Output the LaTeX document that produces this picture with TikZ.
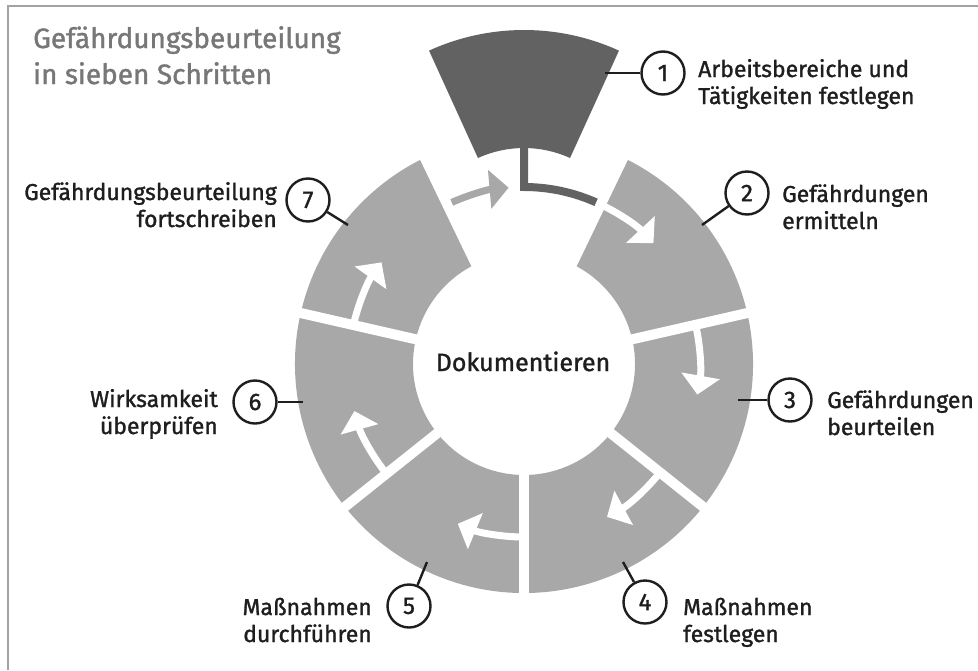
\documentclass[tikz,border=0pt]{standalone}
\usepackage{fontspec}
\setmainfont{Fira Sans}[FakeBold=1.3]
\usetikzlibrary{arrows.meta}
\definecolor{seg}{HTML}{A8A8A8}
\definecolor{segdark}{HTML}{626262}
\definecolor{ttl}{HTML}{777777}
\definecolor{frm}{HTML}{A3A3A3}
\definecolor{ink}{HTML}{1E1E1E}
\tikzset{
  lbl/.style={font=\fontsize{23}{27}\selectfont, text=ink, inner sep=0pt},
  numc/.style={circle, draw=ink, line width=2.4pt, minimum size=43pt, inner sep=0pt, text=ink, font=\fontsize{24}{24}\selectfont},
  conn/.style={draw=ink, line width=2.4pt},
  gapline/.style={white, line width=10pt},
  headtip/.style={-{Triangle[length=19pt,width=38pt]}},
  warrow/.style={draw=white, line width=7pt, headtip},
  garrow/.style={draw=seg, line width=7pt, headtip},
}
\begin{document}
\begin{tikzpicture}[x=1pt,y=1pt]
\useasboundingbox (0,0) rectangle (978,-670);
\fill[white] (0,0) rectangle (978,-670);
% frame
\draw[frm, line width=2pt] (8,-670) -- (8,-6) -- (978,-6);
\coordinate (C) at (524,-364);
\coordinate (C1) at (524,-259);
% title
\node[font=\fontsize{28}{36}\selectfont, text=ttl, inner sep=0pt, anchor=base west] (title) at (33,-48)
  {\begin{tabular}[t]{@{}l@{}}Gefährdungsbeurteilung\\in sieben Schritten\end{tabular}};
% ring (segments 2-7)
\fill[seg] ([shift={(64.29:229)}]C) arc[start angle=64.29, end angle=-244.29, radius=229]
  -- ([shift={(-244.29:111)}]C) arc[start angle=-244.29, end angle=64.29, radius=111] -- cycle;
\foreach \a in {115.71,64.29,12.86,-38.57,-90,-141.43,167.14}
  \draw[gapline] ([shift={(\a:100)}]C) -- ([shift={(\a:240)}]C);
% segment 1 (pulled out)
\fill[segdark] ([shift={(65.5:229)}]C1) arc[start angle=65.5, end angle=114.5, radius=229]
  -- ([shift={(114.5:111)}]C1) arc[start angle=114.5, end angle=65.5, radius=111] -- cycle;
% arrows
\coordinate (s1) at (524,-148);
\draw[segdark, line width=8pt, line join=miter] (s1) -- ([shift={(90:177)}]C) arc[start angle=90, end angle=65.9, radius=177];
\draw[warrow] ([shift={(65.9:177)}]C) arc[start angle=65.9, end angle=43, radius=177];
\draw[warrow] ([shift={(12.86:176)}]C) arc[start angle=12.86, end angle=-10, radius=176];
\draw[warrow] ([shift={(-38.57:174)}]C) arc[start angle=-38.57, end angle=-61.5, radius=174];
\draw[warrow] ([shift={(-90:173)}]C) arc[start angle=-90, end angle=-112.5, radius=173];
\draw[warrow] ([shift={(-141.43:176)}]C) arc[start angle=-141.43, end angle=-164.5, radius=176];
\draw[warrow] ([shift={(167.14:175)}]C) arc[start angle=167.14, end angle=144.5, radius=175];
\draw[garrow] ([shift={(114.09:177)}]C) arc[start angle=114.09, end angle=95, radius=177];
% centre text
\node[font=\fontsize{25}{30}\selectfont, text=ink, inner sep=0pt, anchor=base] (doc) at (523,-371) {Dokumentieren};
% numbered circles
\node[numc] (c1) at (663,-73) {1};
\node[numc] (c2) at (747,-193) {2};
\node[numc] (c3) at (790,-400) {3};
\node[numc] (c4) at (645,-602) {4};
\node[numc] (c5) at (409,-606) {5};
\node[numc] (c6) at (255,-402) {6};
\node[numc] (c7) at (308,-200) {7};
\coordinate (p1) at (605,-73);
\coordinate (p2) at (702,-225);
\coordinate (p3) at (738,-400);
\coordinate (p4) at (623,-562);
\coordinate (p5) at (427,-562);
\coordinate (p6) at (303,-402);
\coordinate (p7) at (348,-225);
\foreach \i in {1,...,7} \draw[conn] (c\i) -- (p\i);
% labels
\node[lbl, anchor=base west] (t1) at (698,-77) {\begin{tabular}[t]{@{}l@{}}Arbeitsbereiche und\\Tätigkeiten festlegen\end{tabular}};
\node[lbl, anchor=base west] (t2) at (782,-202) {\begin{tabular}[t]{@{}l@{}}Gefährdungen\\ermitteln\end{tabular}};
\node[lbl, anchor=base west] (t3) at (827,-408) {\begin{tabular}[t]{@{}l@{}}Gefährdungen\\beurteilen\end{tabular}};
\node[lbl, anchor=base west] (t4) at (683,-615) {\begin{tabular}[t]{@{}l@{}}Maßnahmen\\festlegen\end{tabular}};
\node[lbl, anchor=base east] (t5) at (372,-615) {\begin{tabular}[t]{@{}r@{}}Maßnahmen\\durchführen\end{tabular}};
\node[lbl, anchor=base east] (t6) at (218,-407) {\begin{tabular}[t]{@{}r@{}}Wirksamkeit\\überprüfen\end{tabular}};
\node[lbl, anchor=base east] (t7) at (277,-200) {\begin{tabular}[t]{@{}r@{}}Gefährdungsbeurteilung\\fortschreiben\end{tabular}};
\end{tikzpicture}
\end{document}
